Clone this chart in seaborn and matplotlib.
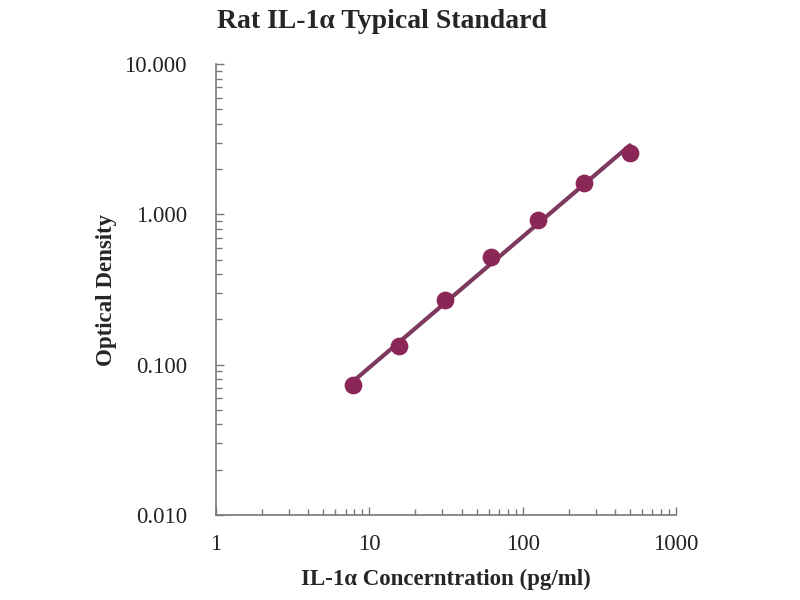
import numpy as np
import pandas as pd
import matplotlib
matplotlib.use("Agg")
import matplotlib.pyplot as plt
import matplotlib.ticker as mticker
import seaborn as sns

# Standard curve data
conc = [7.8, 15.6, 31.25, 62.5, 125, 250, 500]
od = [0.073, 0.133, 0.269, 0.520, 0.916, 1.62, 2.57]

df = pd.DataFrame({"conc": conc, "od": od})

sns.set_style("white")
plt.rcParams['font.family'] = ['Liberation Serif', 'DejaVu Serif']

color = "#8B2756"

fig = plt.figure(figsize=(8, 6), dpi=100)
ax = fig.add_axes([0.27, 0.142, 0.575, 0.751])

# power fit in log-log space
k, b = np.polyfit(np.log10(df["conc"]), np.log10(df["od"]), 1)
fit_x = np.array([df["conc"].min(), df["conc"].max()])
fit_y = 10 ** (b + k * np.log10(fit_x))
sns.lineplot(x=fit_x, y=fit_y, ax=ax, color="#7d3a5e", linewidth=3, zorder=2)
sns.scatterplot(data=df, x="conc", y="od", ax=ax, color=color, s=140,
                edgecolor=color, zorder=3)

ax.set_xscale("log")
ax.set_yscale("log")
ax.set_xlim(1, 1000)
ax.set_ylim(0.01, 10)

ax.xaxis.set_major_formatter(mticker.FuncFormatter(lambda v, p: f"{v:g}"))
ax.yaxis.set_major_formatter(mticker.FormatStrFormatter("%.3f"))
ax.xaxis.set_minor_locator(mticker.LogLocator(base=10, subs=np.arange(2, 10)))
ax.yaxis.set_minor_locator(mticker.LogLocator(base=10, subs=np.arange(2, 10)))
ax.xaxis.set_minor_formatter(mticker.NullFormatter())
ax.yaxis.set_minor_formatter(mticker.NullFormatter())

ax.tick_params(which="both", direction="in", color="#777777",
               bottom=True, left=True)
ax.tick_params(which="major", length=6, width=1, labelsize=16.5,
               labelcolor="#222222")
ax.tick_params(which="minor", length=4, width=1)
ax.tick_params(axis="y", pad=21)
ax.tick_params(axis="x", pad=14)

sns.despine(ax=ax)
for s in ["left", "bottom"]:
    ax.spines[s].set_color("#777777")
    ax.spines[s].set_linewidth(1.2)

ax.set_title("Rat IL-1α Typical Standard", fontsize=20, fontweight="bold",
             x=0.36, y=1.062)
ax.set_xlabel("IL-1α Concerntration (pg/ml)", fontsize=16.5, fontweight="bold",
              labelpad=10)
ax.set_ylabel("Optical Density", fontsize=16.5, fontweight="bold", labelpad=5)

plt.savefig("out.png", dpi=100)
